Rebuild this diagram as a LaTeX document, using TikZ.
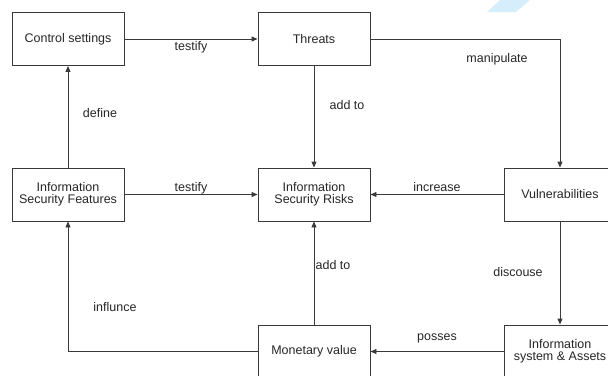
\documentclass[tikz,border=0pt]{standalone}
\usepackage{fontspec}
\setmainfont{Liberation Sans}
\usepackage{xcolor}
\usepackage{tikz}
\usetikzlibrary{arrows.meta}
\definecolor{linegray}{HTML}{3A3A3A}
\definecolor{stripeblue}{HTML}{D6EEFB}

\begin{document}
\begin{tikzpicture}[x=1pt, y=-1pt, every node/.style={font=\fontsize{12.5}{12.5}\selectfont, text=black!85}, box/.style={draw=linegray, line width=0.9pt, fill=white, minimum width=112pt, minimum height=53pt, align=center, inner sep=0pt}, link/.style={draw=linegray, line width=0.9pt, -{Triangle[length=6pt,width=5pt]}}, lbl/.style={inner sep=0pt}]
  \useasboundingbox (0,0) rectangle (608,375);
  \fill[stripeblue] (487,12) -- (516,12) -- (531,-1) -- (501,-1) -- cycle;
  % boxes
  \node[box](ctrl) at (68,39){Control settings};
  \node[box](threats) at (314,39){Threats};
  \node[box](feat) at (68,194.5){Information\\Security Features};
  \node[box](risks) at (314,194.5){Information\\Security Risks};
  \node[box](vuln) at (560,194.5){Vulnerabilities};
  \node[box](money) at (314,351.5){Monetary value};
  \node[box](assets) at (560,351.5){Information\\system \& Assets};
  % links
  \draw[link] (ctrl) -- (threats) node[lbl, midway, yshift=-8pt]{testify};
  \draw[link] (threats.east) -| (vuln.north) node[lbl, pos=0.334, yshift=-20pt]{manipulate};
  \draw[link] (threats) -- (risks) node[lbl, pos=0.38, xshift=33pt]{add to};
  \draw[link] (feat) -- (ctrl) node[lbl, pos=0.54, xshift=32pt]{define};
  \draw[link] (feat) -- (risks) node[lbl, midway, yshift=6pt]{testify};
  \draw[link] (vuln) -- (risks) node[lbl, midway, yshift=7pt]{increase};
  \draw[link] (vuln) -- (assets) node[lbl, pos=0.49, xshift=-42pt]{discouse};
  \draw[link] (assets) -- (money) node[lbl, midway, yshift=13pt]{posses};
  \draw[link] (money) -- (risks) node[lbl, pos=0.58, xshift=19pt]{add to};
  \draw[link] (money.west) -| (feat.south) node[lbl, pos=0.67, xshift=47pt]{influnce};
\end{tikzpicture}
\end{document}
